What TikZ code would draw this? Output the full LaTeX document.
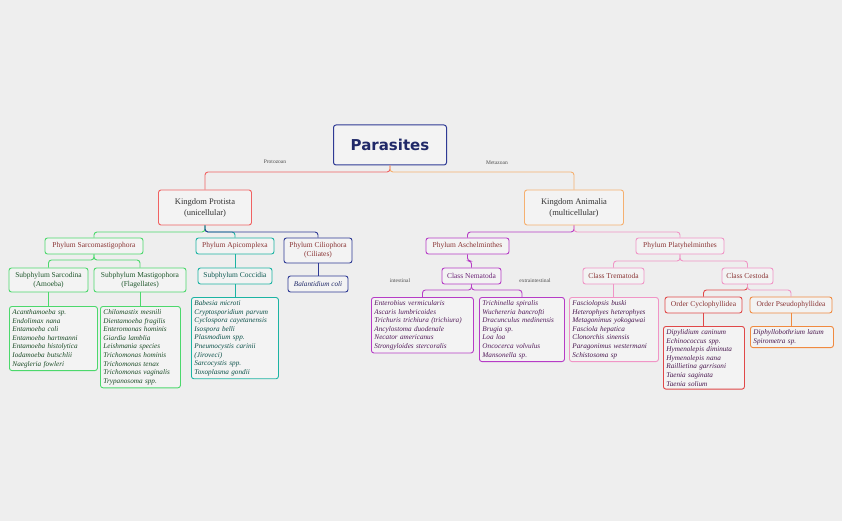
\documentclass[tikz,border=0pt]{standalone}
\usepackage{fontspec}
\setmainfont{Liberation Serif}
\newfontfamily\titlefont{DejaVu Sans}
\begin{document}
\begin{tikzpicture}[x=1pt,y=-1pt,
  bx/.style={draw, rounded corners=2.5pt, line width=0.9pt, fill=boxbg, inner sep=2.5pt, align=center, font=\fontsize{7.5}{9}\selectfont},
  lf/.style={draw, rounded corners=2.5pt, line width=0.9pt, fill=boxbg, inner sep=3pt, align=left, anchor=north west, font=\fontsize{7.2}{8.6}\selectfont\itshape},
  cn/.style={line width=0.9pt, rounded corners=3pt},
  lbl/.style={font=\fontsize{5.5}{6}\selectfont, text=black!70, fill=bg, inner sep=1.5pt}]
\definecolor{bg}{HTML}{EEEEEE}
\definecolor{boxbg}{HTML}{F3F3F3}
\definecolor{cred}{HTML}{F06262}
\definecolor{corange}{HTML}{F5B070}
\definecolor{cgreen}{HTML}{4CD86C}
\definecolor{cteal}{HTML}{1CB3A3}
\definecolor{cnavy}{HTML}{2E3A94}
\definecolor{cpurple}{HTML}{B63CC6}
\definecolor{cpink}{HTML}{F095C6}
\definecolor{ccrim}{HTML}{E04848}
\definecolor{cor2}{HTML}{F08A40}
\definecolor{tred}{HTML}{8A3434}
\fill[bg] (0,0) rectangle (842,521);
\useasboundingbox (0,0) rectangle (842,521);
% root
\node[bx, draw=cnavy, line width=1pt, minimum width=113pt, minimum height=40pt, font=\titlefont\bfseries\fontsize{15}{17}\selectfont, text=cnavy!70!black] (root) at (390,145) {Parasites};
\node[bx, draw=cred, minimum width=93pt, minimum height=35pt, font=\fontsize{8.5}{11}\selectfont, text=black!80] (prot) at (205,207.5) {Kingdom Protista\\(unicellular)};
\node[bx, draw=corange, minimum width=99pt, minimum height=35pt, font=\fontsize{8.5}{11}\selectfont, text=black!80] (anim) at (574,207.5) {Kingdom Animalia\\(multicellular)};
\draw[cn, cred] (root.south) -- (390,172) -| (prot.north);
\draw[cn, corange] (root.south) -- (390,172) -| (anim.north);
\node[lbl] at (275,162) {Protozoan};
\node[lbl] at (497,163) {Metazoan};
% level 2 protista
\node[bx, draw=cgreen, text=tred, minimum width=98pt, minimum height=16pt] (sarco) at (94,246) {Phylum Sarcomastigophora};
\node[bx, draw=cteal, text=tred, minimum width=78pt, minimum height=16pt] (apic) at (235,246) {Phylum Apicomplexa};
\node[bx, draw=cnavy, text=tred, minimum width=68pt, minimum height=25pt] (cilio) at (318,250.5) {Phylum Ciliophora\\(Ciliates)};
\draw[cn, cgreen] (prot.south) -- (205,232) -| (sarco.north);
\draw[cn, cteal] (prot.south) -- (205,232) -| (apic.north);
\draw[cn, cnavy] (prot.south) -- (205,232) -| (cilio.north);
% level 3
\node[bx, draw=cgreen, text=cgreen!40!black, minimum width=79pt, minimum height=24pt] (sarcod) at (48.5,280) {Subphylum Sarcodina\\(Amoeba)};
\node[bx, draw=cgreen, text=cgreen!40!black, minimum width=92pt, minimum height=24pt] (masti) at (140,280) {Subphylum Mastigophora\\(Flagellates)};
\draw[cn, cgreen] (sarco.south) -- (94,260) -| (sarcod.north);
\draw[cn, cgreen] (sarco.south) -- (94,260) -| (masti.north);
\node[bx, draw=cteal, text=cteal!50!black, minimum width=74pt, minimum height=16pt] (cocc) at (235,276) {Subphylum Coccidia};
\draw[cn, cteal] (apic.south) -- (cocc.north);
\node[bx, draw=cnavy, text=cnavy!70!black, font=\fontsize{7.2}{9}\selectfont\itshape, minimum width=60pt, minimum height=16pt] (bal) at (318,284) {Balantidium coli};
\draw[cn, cnavy] (cilio.south) -- (bal.north);
% leaves protista
\node[lf, draw=cgreen, text=cgreen!35!black, text width=82pt] (l1) at (9,306) {Acanthamoeba sp.\\Endolimax nana\\Entamoeba coli\\Entamoeba hartmanni\\Entamoeba histolytica\\Iodamoeba butschlii\\Naegleria fowleri};
\draw[cn, cgreen] (sarcod.south) -- (48.5,306);
\node[lf, draw=cgreen, text=cgreen!35!black, text width=74pt] (l2) at (100,306) {Chilomastix mesnili\\Dientamoeba fragilis\\Enteromonas hominis\\Giardia lamblia\\Leishmania species\\Trichomonas hominis\\Trichomonas tenax\\Trichomonas vaginalis\\Trypanosoma spp.};
\draw[cn, cgreen] (masti.south) -- (140,306);
\node[lf, draw=cteal, text=cteal!45!black, text width=81pt] (l3) at (191,297) {Babesia microti\\Cryptosporidium parvum\\Cyclospora cayetanensis\\Isospora belli\\Plasmodium spp.\\Pneumocystis carinii\\(Jiroveci)\\Sarcocystis spp.\\Toxoplasma gondii};
\draw[cn, cteal] (cocc.south) -- (235,297);
% animalia
\node[bx, draw=cpurple, text=tred, minimum width=83pt, minimum height=16pt] (asch) at (467.5,246) {Phylum Aschelminthes};
\node[bx, draw=cpink, text=tred, minimum width=88pt, minimum height=16pt] (platy) at (680,246) {Phylum Platyhelminthes};
\draw[cn, cpurple] (anim.south) -- (574,232) -| (asch.north);
\draw[cn, cpink] (anim.south) -- (574,232) -| (platy.north);
\node[bx, draw=cpurple, text=cpurple!60!black, minimum width=59pt, minimum height=16pt] (nema) at (471.5,276) {Class Nematoda};
\draw[cn, cpurple] (asch.south) -- (467.5,261) -| (nema.north);
\node[lbl] at (400,281) {intestinal};
\node[lbl] at (535,281) {extraintestinal};
\node[lf, draw=cpurple, text=cpurple!45!black, text width=96pt] (l4) at (371,297) {Enterobius vermicularis\\Ascaris lumbricoides\\Trichuris trichiura (trichiura)\\Ancylostoma duodenale\\Necator americanus\\Strongyloides stercoralis};
\node[lf, draw=cpurple, text=cpurple!45!black, text width=79pt] (l5) at (479,297) {Trichinella spiralis\\Wuchereria bancrofti\\Dracunculus medinensis\\Brugia sp.\\Loa loa\\Oncocerca volvulus\\Mansonella sp.};
\draw[cn, cpurple] (nema.south) -- (471.5,290) -| (l4.north);
\draw[cn, cpurple] (nema.south) -- (471.5,290) -| (l5.north);
\node[bx, draw=cpink, text=tred, minimum width=61pt, minimum height=16pt] (trem) at (613.5,276) {Class Trematoda};
\node[bx, draw=cpink, text=tred, minimum width=51pt, minimum height=16pt] (cest) at (747.5,276) {Class Cestoda};
\draw[cn, cpink] (platy.south) -- (680,261) -| (trem.north);
\draw[cn, cpink] (platy.south) -- (680,261) -| (cest.north);
\node[lf, draw=cpink, text=cpurple!40!black, text width=83pt] (l6) at (569,297) {Fasciolopsis buski\\Heterophyes heterophyes\\Metagonimus yokogawai\\Fasciola hepatica\\Clonorchis sinensis\\Paragonimus westermani\\Schistosoma sp};
\draw[cn, cpink] (trem.south) -- (613.5,297);
\node[bx, draw=ccrim, text=tred, minimum width=77pt, minimum height=16pt] (cyclo) at (703.5,305) {Order Cyclophyllidea};
\node[bx, draw=cor2, text=tred, minimum width=82pt, minimum height=16pt] (pseudo) at (791,305) {Order Pseudophyllidea};
\draw[cn, ccrim] (cest.south) -- (747.5,290) -| (cyclo.north);
\draw[cn, cpink] (cest.south) -- (747.5,290) -| (pseudo.north);
\node[lf, draw=ccrim, text=cpurple!40!black, text width=75pt] (l7) at (663,326) {Dipylidium caninum\\Echinococcus spp.\\Hymenolepis diminuta\\Hymenolepis nana\\Raillietina garrisoni\\Taenia saginata\\Taenia solium};
\draw[cn, ccrim] (cyclo.south) -- (703.5,326);
\node[lf, draw=cor2, text=cpurple!40!black, text width=77pt] (l8) at (750,326) {Diphyllobothrium latum\\Spirometra sp.};
\draw[cn, cor2] (pseudo.south) -- (791,326);
\end{tikzpicture}
\end{document}
